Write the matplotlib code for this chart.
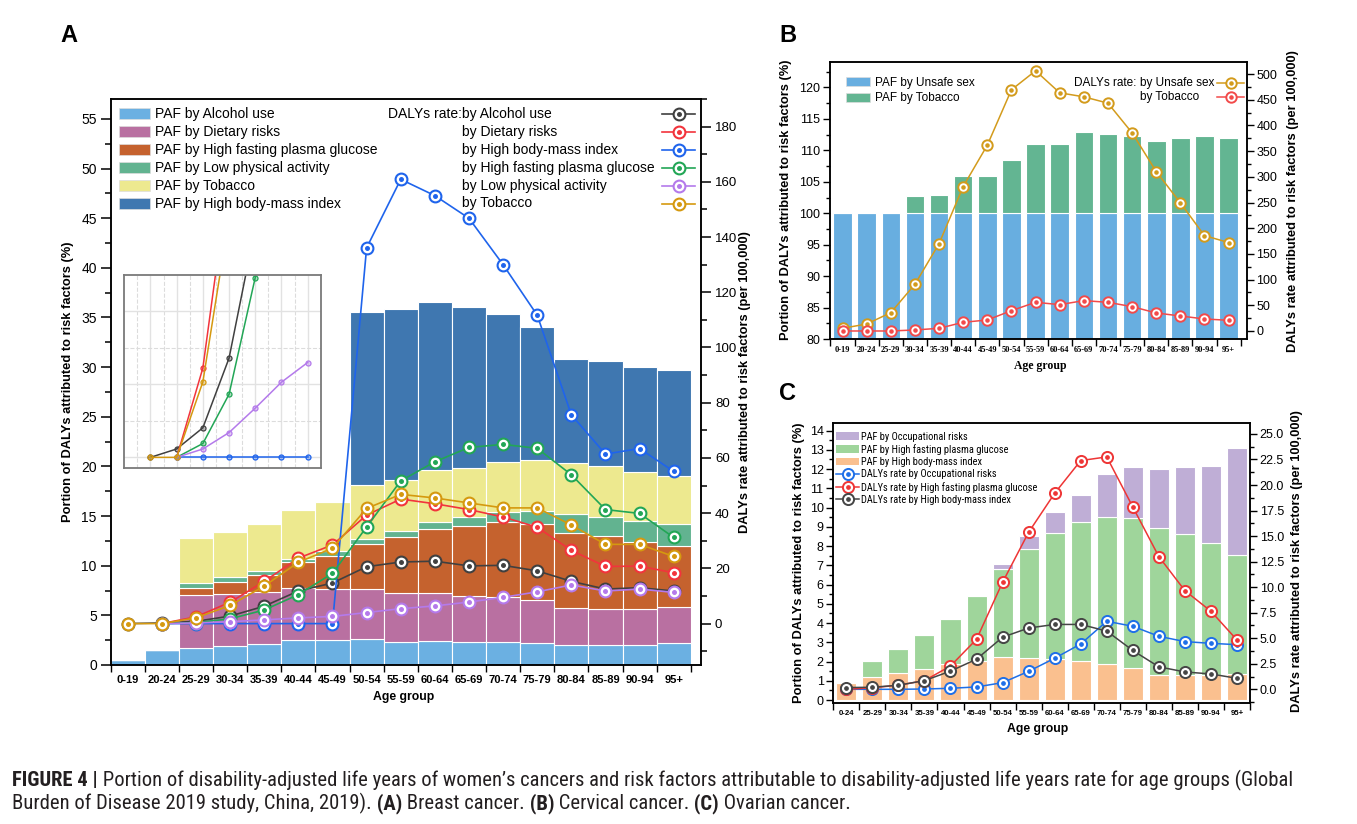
import numpy as np
import matplotlib
matplotlib.use('Agg')
import matplotlib.pyplot as plt
from matplotlib import font_manager as fm
from matplotlib.colors import to_rgba
from matplotlib.lines import Line2D
from matplotlib.patches import Patch
from matplotlib.ticker import MultipleLocator, FormatStrFormatter

plt.rcParams['font.family'] = ['Liberation Sans', 'DejaVu Sans']
plt.rcParams['axes.linewidth'] = 1.1
nan = np.nan


def pick_narrow():
    entries = fm.fontManager.ttflist
    names = {f.name for f in entries}
    for n in ['Liberation Sans Narrow', 'Arial Narrow', 'Roboto Condensed', 'Noto Sans Condensed',
              'Open Sans Condensed']:
        if n in names:
            return {'family': [n]}
    for n in ['Noto Sans', 'Open Sans', 'DejaVu Sans', 'Roboto']:
        if any(f.name == n and str(f.stretch) in ('condensed', 'semi-condensed', '75', '87.5')
               for f in entries):
            return {'family': [n], 'stretch': 'condensed'}
    return {'family': ['Liberation Sans']}


NARROW = pick_narrow()

# ---------------- A: breast cancer ----------------
ages_a = ['0-19', '20-24', '25-29', '30-34', '35-39', '40-44', '45-49', '50-54', '55-59',
          '60-64', '65-69', '70-74', '75-79', '80-84', '85-89', '90-94', '95+']
paf_alcohol = [0.5, 1.5, 1.7, 1.9, 2.1, 2.55, 2.55, 2.6, 2.3, 2.4, 2.3, 2.35, 2.2, 2.05, 2.0, 2.05, 2.2]
paf_dietary = [0, 0, 5.3, 5.3, 5.3, 5.25, 5.15, 5.1, 5.0, 4.9, 4.6, 4.45, 4.3, 3.7, 3.65, 3.6, 3.65]
paf_hfpg = [0, 0, 0.8, 1.2, 1.7, 2.6, 3.3, 4.5, 5.55, 6.35, 7.1, 7.6, 7.65, 7.55, 7.3, 6.75, 6.15]
paf_lpa = [0, 0, 0.5, 0.5, 0.4, 0.3, 0.45, 0.5, 0.65, 0.75, 0.9, 1.0, 1.35, 1.95, 2.0, 2.15, 2.2]
paf_tobacco = [0, 0, 4.5, 4.5, 4.7, 4.9, 4.95, 5.4, 5.1, 5.2, 4.9, 5.05, 5.1, 5.05, 5.05, 4.85, 4.8]
paf_bmi = [0, 0, 0, 0, 0, 0, 0, 17.4, 17.25, 16.95, 16.3, 14.9, 13.4, 10.5, 10.6, 10.65, 10.75]

rate_alcohol = [0, 0.23, 0.81, 2.72, 6.3, 11.8, 14.7, 20.6, 22.3, 22.6, 20.9, 21.1, 19.1, 15.3, 12.5, 13.0, 11.8]
rate_dietary = [nan, 0, 2.45, 7.75, 15.3, 23.7, 28.5, 39.3, 45.1, 43.4, 41.3, 38.6, 34.9, 26.5, 20.7, 20.8, 18.4]
rate_bmi = [nan, 0, 0, 0, 0, 0, 0, 136.1, 160.9, 155.0, 146.8, 130.0, 111.7, 75.6, 61.4, 63.4, 55.1]
rate_hfpg = [nan, 0, 0.38, 1.73, 4.93, 10.5, 18.2, 35.0, 51.7, 58.6, 63.8, 64.9, 63.5, 53.9, 41.3, 39.9, 31.2]
rate_lpa = [nan, 0, 0.23, 0.68, 1.35, 2.06, 2.6, 4.0, 5.4, 6.4, 7.8, 9.5, 11.5, 14.0, 11.8, 12.5, 11.3]
rate_tobacco = [0, 0, 2.07, 6.57, 13.6, 22.2, 27.3, 41.7, 46.8, 45.5, 43.7, 41.9, 41.9, 35.7, 28.7, 28.7, 24.3]

# ---------------- B: cervical cancer ----------------
ages_b = ages_a
paf_unsafe_sex_b = [100, 100, 100, 100, 100, 100, 100, 100, 100, 100, 100, 100, 100, 100, 100, 100, 100]
paf_tobacco_b = [0, 0, 0, 2.8, 2.9, 5.9, 5.9, 8.4, 11.0, 11.0, 12.85, 12.55, 12.3, 11.5, 11.9, 12.25, 12.0]
rate_unsafe_sex_b = [5.2, 13.6, 35.7, 90.9, 170.1, 281.2, 361.7, 469.5, 506.5, 463.6, 455.8, 443.5,
                     385.7, 310.4, 249.4, 185.7, 172.1]
rate_tobacco_b = [0, 0, 0, 2, 5.2, 16.9, 21.4, 39.6, 55.8, 51.3, 59.1, 55.8, 47.4, 35.1, 29.2, 23.4, 20.8]

# ---------------- C: ovarian cancer ----------------
ages_c = ['0-24', '25-29', '30-34', '35-39', '40-44', '45-49', '50-54', '55-59', '60-64',
          '65-69', '70-74', '75-79', '80-84', '85-89', '90-94', '95+']
paf_bmi_c = [0.87, 1.18, 1.39, 1.61, 1.87, 2.05, 2.24, 2.18, 2.15, 2.03, 1.85, 1.66, 1.3, 1.3, 1.3, 1.35]
paf_hfpg_c = [0, 0.85, 1.24, 1.75, 2.34, 3.36, 4.56, 5.69, 6.55, 7.21, 7.65, 7.8, 7.63, 7.33, 6.85, 6.19]
paf_occ_c = [0, 0, 0, 0, 0, 0, 0.29, 0.67, 1.06, 1.42, 2.23, 2.67, 3.05, 3.47, 4.02, 5.56]
rate_occ_c = [0.0, 0.0, 0.0, 0.03, 0.1, 0.23, 0.65, 1.76, 3.04, 4.44, 6.66, 6.17, 5.19, 4.67, 4.5, 4.37]
rate_hfpg_c = [0.0, 0.15, 0.4, 0.85, 2.28, 4.9, 10.48, 15.37, 19.19, 22.39, 22.75, 17.85, 12.99, 9.66, 7.64, 4.83]
rate_bmi_c = [0.17, 0.2, 0.4, 0.85, 1.78, 2.95, 5.1, 6.0, 6.35, 6.35, 5.7, 3.8, 2.2, 1.7, 1.5, 1.08]

W, H = 1357, 824
fig = plt.figure(figsize=(W / 100, H / 100), dpi=100)
R = fig.canvas.get_renderer()


def box(l, t, r, b):
    return [l / W, 1 - b / H, (r - l) / W, (b - t) / H]


def ring_line(ax, x, y, c, ms=8.5, mew=1.5, lw=1.2):
    ln, = ax.plot(x, y, color=c, lw=lw, marker='o', ms=ms, mfc='white', mec=c, mew=mew, zorder=3)
    dt, = ax.plot(x, y, ls='none', marker='o', ms=ms * 0.3, color=c, zorder=3)
    return (ln, dt)


def stacked(ax, x, series, colors, width):
    bottom = np.zeros(len(x))
    for vals, col in zip(series, colors):
        ax.bar(x, vals, width, bottom=bottom, color=col, edgecolor='white', linewidth=0.8, zorder=2)
        bottom = bottom + np.array(vals, float)


def age_ticks(ax, labels, size, family=None, pad=6):
    n = len(labels)
    ax.set_xticks(np.arange(-0.5, n, 1.0))
    ax.set_xticklabels([])
    ax.set_xticks(np.arange(n), minor=True)
    ax.set_xticklabels(labels, minor=True, fontsize=size, fontweight='bold',
                       family=family if family else plt.rcParams['font.family'])
    ax.tick_params(axis='x', which='major', direction='out', length=5, width=1.0)
    ax.tick_params(axis='x', which='minor', length=0, pad=pad)


def line_key(x0, x1, y, c, ms, mew, lw):
    xm = (x0 + x1) / 2
    fig.add_artist(Line2D([x0 / W, x1 / W], [1 - y / H, 1 - y / H], color=c, lw=lw,
                          transform=fig.transFigure))
    fig.add_artist(Line2D([xm / W], [1 - y / H], marker='o', ms=ms, mfc='white', mec=c, mew=mew,
                          ls='none', transform=fig.transFigure))
    fig.add_artist(Line2D([xm / W], [1 - y / H], marker='o', ms=ms * 0.3, color=c, ls='none',
                          transform=fig.transFigure))


def rate_legend(x_text, x0, x1, y0, dy, entries, size, prefix, gap, ms=8.5, mew=1.5, lw=1.2):
    # left-aligned labels, keys on the right, "DALYs rate:" in front of the first row
    for i, (lab, c) in enumerate(entries):
        y = y0 + i * dy
        fig.text(x_text / W, 1 - y / H, lab, fontsize=size, ha='left', va='center')
        line_key(x0, x1, y, c, ms, mew, lw)
    fig.text((x_text - gap) / W, 1 - y0 / H, prefix, fontsize=size, ha='right', va='center')


# ====================== panel A ======================
axA = fig.add_axes(box(110.7, 99, 701, 665))
xa = np.arange(len(ages_a))
colA = ['#6BB0E2', '#B970A1', '#C5622E', '#62B390', '#EDE98F', '#3F77B0']
labA = ['PAF by Alcohol use', 'PAF by Dietary risks', 'PAF by High fasting plasma glucose',
        'PAF by Low physical activity', 'PAF by Tobacco', 'PAF by High body-mass index']
stacked(axA, xa, [paf_alcohol, paf_dietary, paf_hfpg, paf_lpa, paf_tobacco, paf_bmi], colA, 1.0)
axA.set_xlim(-0.5, 16.8)
axA.set_ylim(0, 57)
age_ticks(axA, ages_a, 8, pad=7)
axA.yaxis.set_major_locator(MultipleLocator(5))
axA.yaxis.set_minor_locator(MultipleLocator(2.5))
axA.tick_params(axis='y', which='major', length=7, width=1.1, labelsize=10, pad=3)
axA.tick_params(axis='y', which='minor', length=4, width=1.1)

axA2 = axA.twinx()
axA2.set_ylim(-15, 190)
axA2.yaxis.set_major_locator(MultipleLocator(20))
axA2.yaxis.set_minor_locator(MultipleLocator(10))
axA2.tick_params(axis='y', which='major', length=7, width=1.1, labelsize=9.5, pad=3)
axA2.tick_params(axis='y', which='minor', length=4, width=1.1)

lineA = [(rate_alcohol, '#404040', 'by Alcohol use'),
         (rate_dietary, '#F2343C', 'by Dietary risks'),
         (rate_bmi, '#1F64EC', 'by High body-mass index'),
         (rate_hfpg, '#22A656', 'by High fasting plasma glucose'),
         (rate_lpa, '#B47AEB', 'by Low physical activity'),
         (rate_tobacco, '#D5990F', 'by Tobacco')]
for v, c, _ in lineA:
    ring_line(axA2, xa, v, c)

axA.legend(handles=[Patch(facecolor=c, edgecolor='#dddddd', lw=0.5) for c in colA], labels=labA,
           loc='upper left', bbox_to_anchor=(0.014, 0.985), frameon=False, fontsize=10,
           handlelength=2.2, handleheight=0.85, labelspacing=0.28, handletextpad=0.4,
           borderpad=0, borderaxespad=0)
rate_legend(462, 662, 695, 114, 17.9, [(l, c) for _, c, l in lineA], 10, 'DALYs rate:', 0)

fig.text(745 / W, 1 - 382 / H, 'DALYs rate attributed to risk factors (per 100,000)', rotation=90,
         ha='center', va='center', fontsize=9.3, fontweight='bold')
fig.text(68 / W, 1 - 382 / H, 'Portion of DALYs attributed to risk factors (%)', rotation=90,
         ha='center', va='center', fontsize=9.3, fontweight='bold')
fig.text(404 / W, 1 - 697 / H, 'Age group', ha='center', va='center', fontsize=8.8, fontweight='bold')

# inset: zoom on the youngest age groups
axIn = fig.add_axes(box(124.3, 275, 320.7, 468.3))
for v, c, _ in lineA:
    axIn.plot(xa[:7], v[:7], color=c, lw=1.1, marker='o', ms=3.6, mfc=to_rgba(c, 0.35), mec=c, mew=0.9)
axIn.set_xlim(-1, 6.5)
axIn.set_ylim(-0.3, 5.0)
axIn.set_xticks(np.arange(0, 7))
axIn.set_xticks(np.arange(-0.5, 6.5, 1.0), minor=True)
axIn.set_yticks([0, 2, 4])
axIn.set_yticks([1, 3], minor=True)
axIn.grid(which='major', color='#e2e2e2', lw=1.0)
axIn.grid(which='minor', color='#dcdcdc', lw=0.8, ls='--')
axIn.set_axisbelow(True)
axIn.tick_params(which='both', length=0, labelbottom=False, labelleft=False)
for s in axIn.spines.values():
    s.set_color('#7a7a7a')
    s.set_linewidth(1.3)

# ====================== panel B ======================
axB = fig.add_axes(box(830, 62.3, 1246.7, 339))
xb = np.arange(len(ages_b))
colB = ['#68AEE0', '#63B592']
stacked(axB, xb, [paf_unsafe_sex_b, paf_tobacco_b], colB, 0.77)
axB.set_xlim(-0.52, 16.75)
axB.set_ylim(80, 124)
age_ticks(axB, ages_b, 6, family=['Liberation Serif'], pad=5)
axB.yaxis.set_major_locator(MultipleLocator(5))
axB.yaxis.set_minor_locator(MultipleLocator(2.5))
axB.tick_params(axis='y', which='major', length=5, width=1.0, labelsize=9, pad=2)
axB.tick_params(axis='y', which='minor', length=3, width=1.0)
axB2 = axB.twinx()
axB2.set_ylim(-15.6, 523)
axB2.yaxis.set_major_locator(MultipleLocator(50))
axB2.yaxis.set_minor_locator(MultipleLocator(25))
axB2.tick_params(axis='y', which='major', length=5, width=1.0, labelsize=9, pad=2)
axB2.tick_params(axis='y', which='minor', length=3, width=1.0)
ring_line(axB2, xb, rate_unsafe_sex_b, '#D39B1C', ms=7.5, mew=1.4, lw=1.1)
ring_line(axB2, xb, rate_tobacco_b, '#F24A4A', ms=7.5, mew=1.4, lw=1.1)
axB.legend(handles=[Patch(facecolor=c, edgecolor='#dddddd', lw=0.5) for c in colB],
           labels=['PAF by Unsafe sex', 'PAF by Tobacco'], loc='upper left',
           bbox_to_anchor=(0.038, 0.948), frameon=False, fontsize=8.5, handlelength=2.05,
           handleheight=0.8, labelspacing=0.3, handletextpad=0.45, borderpad=0, borderaxespad=0)
rate_legend(1140, 1217, 1244, 82.7, 14.6, [('by Unsafe sex', '#D39B1C'), ('by Tobacco', '#F24A4A')],
            8.5, 'DALYs rate:', 3.3, ms=7.5, mew=1.4, lw=1.1)
fig.text(786 / W, 1 - 200 / H, 'Portion of DALYs attributed to risk factors (%)', rotation=90,
         ha='center', va='center', fontsize=9.3, fontweight='bold')
fig.text(1293 / W, 1 - 201 / H, 'DALYs rate attributed to risk factors (per 100,000)', rotation=90,
         ha='center', va='center', fontsize=9.3, fontweight='bold')
fig.text(1040 / W, 1 - 366 / H, 'Age group', ha='center', va='center', fontsize=8.5,
         fontweight='bold', family=['Liberation Serif'])

# ====================== panel C ======================
axC = fig.add_axes(box(833.3, 423.3, 1250, 703.3))
xc = np.arange(len(ages_c))
colC = ['#FAC08F', '#9FD59B', '#BFAED6']
stacked(axC, xc, [paf_bmi_c, paf_hfpg_c, paf_occ_c], colC, 0.77)
axC.set_xlim(-0.5, 15.47)
axC.set_ylim(-0.17, 14.38)
age_ticks(axC, ages_c, 5.6, pad=5)
axC.yaxis.set_major_locator(MultipleLocator(1))
axC.yaxis.set_minor_locator(MultipleLocator(0.5))
axC.tick_params(axis='y', which='major', length=5, width=1.0, labelsize=9, pad=2)
axC.tick_params(axis='y', which='minor', length=3, width=1.0)
axC2 = axC.twinx()
axC2.set_ylim(-1.37, 26.04)
axC2.yaxis.set_major_locator(MultipleLocator(2.5))
axC2.yaxis.set_minor_locator(MultipleLocator(1.25))
axC2.yaxis.set_major_formatter(FormatStrFormatter('%.1f'))
axC2.tick_params(axis='y', which='major', length=5, width=1.0, labelsize=9, pad=2)
axC2.tick_params(axis='y', which='minor', length=3, width=1.0)
hC = [ring_line(axC2, xc, rate_occ_c, '#1E6FE8', ms=8, mew=1.4, lw=1.1),
      ring_line(axC2, xc, rate_hfpg_c, '#EE3535', ms=8, mew=1.4, lw=1.1),
      ring_line(axC2, xc, rate_bmi_c, '#454545', ms=8, mew=1.4, lw=1.1)]
labC = ['PAF by Occupational risks', 'PAF by High fasting plasma glucose',
        'PAF by High body-mass index', 'DALYs rate by Occupational risks',
        'DALYs rate by High fasting plasma glucose', 'DALYs rate by High body-mass index']
# size the narrow legend text so the longest label spans like in the reference (~175 px)
probe = fig.text(0, 0, labC[4], fontsize=10, **NARROW)
c_size = 10 * 175 / probe.get_window_extent(renderer=R).width
probe.remove()
legC = axC2.legend(handles=[Patch(facecolor=c) for c in colC[::-1]] + hC, labels=labC,
                   loc='upper left', bbox_to_anchor=(0.0065, 0.97), frameon=False,
                   prop=dict(size=c_size, **NARROW), handlelength=23 / (c_size * 1.389),
                   handleheight=0.75, labelspacing=0.22, handletextpad=0.2, borderpad=0,
                   borderaxespad=0)
fig.text(799 / W, 1 - 563 / H, 'Portion of DALYs attributed to risk factors (%)', rotation=90,
         ha='center', va='center', fontsize=9.3, fontweight='bold')
fig.text(1297 / W, 1 - 561 / H, 'DALYs rate attributed to risk factors (per 100,000)', rotation=90,
         ha='center', va='center', fontsize=9.3, fontweight='bold')
fig.text(1038 / W, 1 - 729 / H, 'Age group', ha='center', va='center', fontsize=8.8, fontweight='bold')

# panel letters
fig.text(69 / W, 1 - 35 / H, 'A', fontsize=17, fontweight='bold', ha='center', va='center')
fig.text(788 / W, 1 - 36 / H, 'B', fontsize=17, fontweight='bold', ha='center', va='center')
fig.text(788 / W, 1 - 394 / H, 'C', fontsize=17, fontweight='bold', ha='center', va='center')

# caption
line1 = [('FIGURE 4 |', 'bold'),
         (' Portion of disability-adjusted life years of women\u2019s cancers and risk factors attributable '
          'to disability-adjusted life years rate for age groups (Global', 'normal')]
line2 = [('Burden of Disease 2019 study, China, 2019).', 'normal'), (' (A)', 'bold'),
         (' Breast cancer.', 'normal'), (' (B)', 'bold'), (' Cervical cancer.', 'normal'),
         (' (C)', 'bold'), (' Ovarian cancer.', 'normal')]


def rich(x, y, parts, size):
    made = []
    for s, w in parts:
        t = fig.text(x / W, 1 - y / H, s, fontsize=size, fontweight=w, ha='left', va='baseline',
                     color='#231f20', **NARROW)
        made.append(t)
        x += t.get_window_extent(renderer=R).width
    return made, x


trial, xend = rich(12, 786, line1, 12)
cap_size = 12 * (1290 - 12) / (xend - 12)
for t in trial:
    t.remove()
rich(12, 786, line1, cap_size)
rich(12, 809, line2, cap_size)

fig.savefig('out.png', dpi=100)
